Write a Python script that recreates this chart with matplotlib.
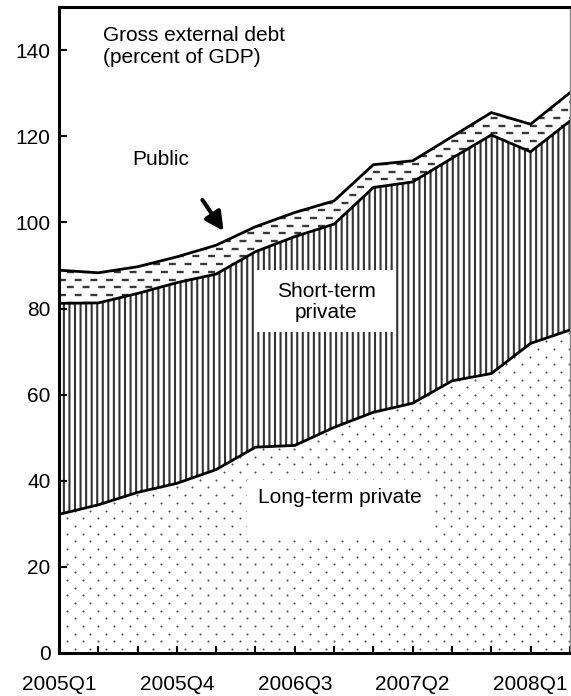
import numpy as np
import matplotlib
matplotlib.use('Agg')
import matplotlib.pyplot as plt
from matplotlib.patches import Rectangle

plt.rcParams['font.family'] = ['Liberation Sans', 'DejaVu Sans']
plt.rcParams['lines.scale_dashes'] = False

# Gross external debt, percent of GDP (cumulative levels)
quarters = ['2005Q1', '2005Q2', '2005Q3', '2005Q4', '2006Q1', '2006Q2', '2006Q3',
            '2006Q4', '2007Q1', '2007Q2', '2007Q3', '2007Q4', '2008Q1', '2008Q2']
long_term = [32.2, 34.4, 37.3, 39.4, 42.6, 47.8, 48.2,
             52.4, 55.9, 58.0, 63.2, 64.9, 71.9, 75.0]
private_total = [81.2, 81.3, 83.5, 86.0, 88.0, 93.2, 96.7,
                 99.6, 108.1, 109.4, 114.9, 120.3, 116.4, 123.5]
gross_total = [88.9, 88.3, 89.7, 92.0, 94.7, 99.0, 102.3,
               105.0, 113.4, 114.3, 119.9, 125.5, 122.8, 130.1]
tick_labels = ['2005Q1', '2005Q4', '2006Q3', '2007Q2', '2008Q1']

x = np.arange(len(quarters))
lt = np.array(long_term)
pv = np.array(private_total)
gt = np.array(gross_total)

fig = plt.figure(figsize=(5.71, 6.96), dpi=100)
ax = fig.add_axes([0.1033, 0.0618, 0.8947, 0.928])
ax.set_xlim(0, len(quarters) - 1)
ax.set_ylim(0, 150)

# px per data unit, used for the fill patterns
px_x = ax.bbox.width / (len(quarters) - 1)
px_y = ax.bbox.height / 150.0
row_step = 7.7 / px_y
col_step = 15.7 / px_x

# long-term private: sparse staggered dots
lt_fill = ax.fill_between(x, 0, lt, facecolor='white', linewidth=0)
lt_clip = lt_fill.get_paths()[0]
dx, dy = [], []
for k, yy in enumerate(np.arange(row_step / 2, 150, row_step)):
    off = (k % 2) * col_step / 2
    for xx in np.arange(off, len(quarters), col_step):
        dx.append(xx)
        dy.append(yy)
dots = ax.scatter(dx, dy, s=2.2, color='#505050', linewidths=0, zorder=1)
dots.set_clip_path(lt_clip, ax.transData)

# short-term private: vertical hatching
plt.rcParams['hatch.linewidth'] = 1.5
ax.fill_between(x, lt, pv, facecolor='white', edgecolor='#333333',
                hatch='|||', linewidth=0, zorder=1)

# public: staggered horizontal dashes (pattern in points)
pub_fill = ax.fill_between(x, pv, gt, facecolor='white', linewidth=0, zorder=1)
pub_clip = pub_fill.get_paths()[0]
on, gap = 5.0, 6.3
for k, yy in enumerate(np.arange(row_step / 2, 150, row_step)):
    ln, = ax.plot([0, len(quarters)], [yy, yy], color='#383838', lw=1.7,
                  linestyle=((k % 2) * (on + gap) / 2, (on, gap)),
                  dash_capstyle='butt', zorder=1.5)
    ln.set_clip_path(pub_clip, ax.transData)

# boundary lines
for s in (lt, pv, gt):
    ax.plot(x, s, color='black', lw=2.0, zorder=3, solid_joinstyle='miter')

# white label boxes
ax.add_patch(Rectangle((195 / px_x, (653 - 332) / px_y), 139 / px_x, 62 / px_y,
                       facecolor='white', edgecolor='none', zorder=2))
ax.add_patch(Rectangle((188 / px_x, (653 - 540) / px_y), 185 / px_x, 60 / px_y,
                       facecolor='white', edgecolor='none', zorder=2))

fs = 15
ax.text(1.12, 145.5, 'Gross external debt\n(percent of GDP)', fontsize=fs,
        va='top', ha='left', linespacing=1.15, zorder=4)
ax.text(2.6, 114.5, 'Public', fontsize=fs, ha='center', va='center', zorder=4)
ax.text(6.8, 81.5, 'Short-term\nprivate', fontsize=fs, ha='center', va='center',
        linespacing=1.15, zorder=4)
ax.text(7.15, 36.0, 'Long-term private', fontsize=fs, ha='center', va='center',
        zorder=4)
ax.annotate('', xy=(4.19, 98.0), xytext=(3.65, 105.2),
            arrowprops=dict(arrowstyle='-|>,head_length=0.55,head_width=0.28',
                            mutation_scale=20, color='black', lw=3,
                            shrinkA=0, shrinkB=0),
            zorder=4)

ax.set_xticks(x, minor=True)
ax.set_xticks(x[::3])
ax.set_xticklabels(tick_labels, fontsize=fs)
ax.set_yticks(np.arange(0, 141, 20))
ax.tick_params(axis='y', labelsize=fs, direction='in', length=6, width=1.5, pad=6)
ax.tick_params(axis='x', which='both', direction='in', length=5, width=1.5, pad=16)
ax.tick_params(axis='x', which='major', labelsize=fs)

for side in ('left', 'bottom', 'top'):
    ax.spines[side].set_linewidth(2.2)
ax.spines['right'].set_linewidth(1.0)
ax.spines['right'].set_color('#888888')
for sp in ax.spines.values():
    sp.set_zorder(5)

fig.savefig('out.png', dpi=100)
